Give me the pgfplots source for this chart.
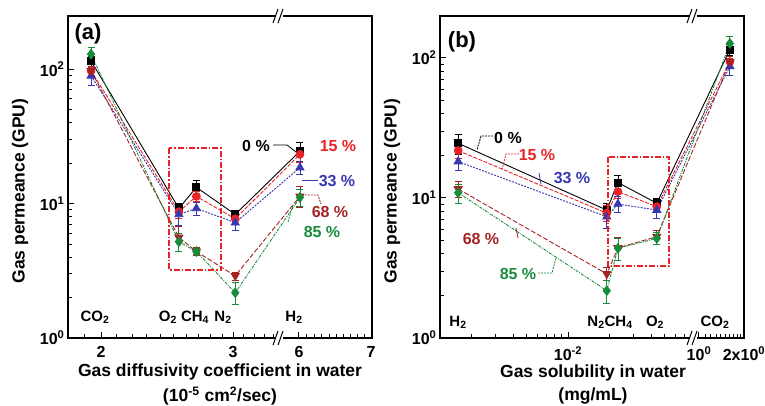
\documentclass[border=0pt]{standalone}
\usepackage{fontspec}
\setmainfont{Liberation Sans}
\usepackage{pgfplots}
\pgfplotsset{compat=1.18}

\definecolor{cred}{RGB}{232,35,40}
\definecolor{cblue}{RGB}{55,55,175}
\definecolor{cdred}{RGB}{165,35,35}
\definecolor{cgreen}{RGB}{25,140,60}

\newcommand\fs[1]{\fontsize{#1}{#1}\selectfont\bfseries}

\pgfplotsset{
  every axis/.append style={scale only axis, width=304pt, height=322pt,
    ymin=1,
    axis line style={line width=1.3pt},
    tick style={line width=1pt, black},
    major tick length=6pt, minor tick length=4pt,
    xtick pos=bottom, ytick pos=left,
    tick label style={font=\fs{16}},
    xticklabel style={yshift=-5pt},
    ytick={1,10,100},
    yticklabels={10\textsuperscript{0},10\textsuperscript{1},10\textsuperscript{2}}},
  errs/.style={error bars/.cd, y dir=both, y explicit,
    error bar style={line width=0.8pt, solid},
    error mark options={rotate=90, mark size=3.5pt, line width=0.8pt, solid}},
  ser0/.style={black, line width=0.9pt, solid, mark=square*, mark size=3.5pt, mark options={solid, fill=black}, errs},
  ser15/.style={cred, line width=0.9pt, dash pattern=on 4pt off 1.5pt, mark=*, mark size=3.9pt, mark options={solid, fill=cred}, errs},
  ser33/.style={cblue, line width=0.9pt, dash pattern=on 2pt off 1.2pt, mark=triangle*, mark size=4.6pt, mark options={solid, fill=cblue}, errs},
  ser68/.style={cdred, line width=0.9pt, dash pattern=on 5pt off 2pt, mark=triangle*, mark size=4.6pt,
    mark options={solid, fill=cdred, rotate=180}, errs},
  ser85/.style={cgreen, line width=0.9pt, dash pattern=on 3pt off 1.2pt on 1pt off 1.2pt, mark=diamond*, mark size=4.8pt, mark options={solid, fill=cgreen}, errs},
}

\begin{document}
\begin{tikzpicture}
\path[use as bounding box] (0,0) rectangle (765pt,-405pt);

% ---------- panel (a)
\begin{axis}[xmode=log, ymode=log, at={(68pt,-338pt)}, anchor=south west,
  xmin=1.807, xmax=4.596, ymax=248,
  xtick={2,3,3.6728,4.5823}, xticklabels={2,3,6,7},
  minor xtick={1.9,2.1,2.2,2.3,2.4,2.5,2.6,2.7,2.8,2.9,3.1,3.2,3.3,3.4,
    3.7614,3.8501,3.9396,4.0296,4.1201,4.2114,4.3032,4.3954,4.4885}]
\addplot[ser0] coordinates {(1.94,115) +- (0,10) (2.54,9.2) +- (0,0.8) (2.68,13.2) +- (0,1.6) (3.02,8.3) +- (0,0.6) (3.684,24.5) +- (0,4)};
\addplot[ser15] coordinates {(1.94,97) +- (0,8) (2.54,8.7) +- (0,0.9) (2.68,11.3) +- (0,1.0) (3.02,7.7) +- (0,0.6) (3.684,23.2) +- (0,3)};
\addplot[ser33] coordinates {(1.94,89) +- (0,14) (2.54,8.3) +- (0,1.4) (2.68,9.2) +- (0,1.0) (3.02,7.2) +- (0,0.9) (3.684,18.5) +- (0,2)};
\addplot[ser68] coordinates {(1.94,97) +- (0,8) (2.54,5.6) +- (0,1.2) (2.68,4.4) +- (0,0.3) (3.02,2.9) +- (0,0.2) (3.684,11.3) +- (0,2.0)};
\addplot[ser85] coordinates {(1.94,129) +- (0,15) (2.54,5.2) +- (0,0.8) (2.68,4.4) +- (0,0.2) (3.02,2.17) +- (0,0.4) (3.684,11.1) +- (0,1.6)};
\end{axis}

% ---------- panel (b)
\begin{axis}[xmode=log, ymode=log, at={(440pt,-338pt)}, anchor=south west,
  xmin=1.1816e-3, xmax=0.18856, ymax=199.5,
  xtick={0.01,0.08897,0.18856},
  xticklabels={10\textsuperscript{-2},10\textsuperscript{0},2x10\textsuperscript{0}},
  minor xtick={0.002,0.003,0.004,0.005,0.006,0.007,0.008,0.009,
    0.02,0.03,0.04,0.05,0.06,0.07,
    0.09866,0.10842,0.11823,0.12810,0.13805,0.14807,0.15812,0.16819,0.17837}]
\addplot[ser0] coordinates {(0.0016,24.6) +- (0,4) (0.0191,8.2) +- (0,1.0) (0.0230,12.9) +- (0,1.6) (0.0440,9.17) +- (0,0.7) (0.149,115) +- (0,10)};
\addplot[ser15] coordinates {(0.0016,21.8) +- (0,2.5) (0.0191,7.8) +- (0,1.0) (0.0230,11.1) +- (0,1.2) (0.0440,8.67) +- (0,0.8) (0.149,94) +- (0,8)};
\addplot[ser33] coordinates {(0.0016,18.2) +- (0,2.5) (0.0191,7.35) +- (0,1.3) (0.0230,9.06) +- (0,1.2) (0.0440,8.2) +- (0,1.0) (0.149,87) +- (0,12)};
\addplot[ser68] coordinates {(0.0016,11.6) +- (0,1.5) (0.0191,2.87) +- (0,0.3) (0.0230,4.4) +- (0,0.8) (0.0440,5.3) +- (0,0.6) (0.149,94) +- (0,8)};
\addplot[ser85] coordinates {(0.0016,10.9) +- (0,1.7) (0.0191,2.18) +- (0,0.4) (0.0230,4.37) +- (0,0.8) (0.0440,5.15) +- (0,0.5) (0.149,127) +- (0,15)};
\end{axis}

% ---------- axis breaks
\foreach \bx in {279,693}{
  \foreach \by in {16,338}{
    \fill[white] (\bx pt-4pt,-\by pt+3pt) rectangle (\bx pt+4pt,-\by pt-3pt);
    \draw[line width=1pt] (\bx pt-6pt,-\by pt-7pt) -- (\bx pt-1pt,-\by pt+7pt);
    \draw[line width=1pt] (\bx pt-1pt,-\by pt-7pt) -- (\bx pt+4pt,-\by pt+7pt);
  }
}

% ---------- highlight boxes
\draw[cred, line width=1.1pt, dash pattern=on 6pt off 2pt on 1.5pt off 2pt] (169pt,-148pt) rectangle (221pt,-270pt);
\draw[cred, line width=1.1pt, dash pattern=on 6pt off 2pt on 1.5pt off 2pt] (608pt,-157pt) rectangle (669pt,-266pt);

% ---------- panel letters
\node[font=\fs{22}] at (88pt,-34pt) {(a)};
\node[font=\fs{22}] at (462pt,-42pt) {(b)};

% ---------- gas names
\begin{scope}[every node/.style={font=\fs{15}, anchor=base, inner sep=0pt}]
\node at (95pt,-321pt) {CO\textsubscript{2}};
\node at (168pt,-321pt) {O\textsubscript{2}};
\node at (195pt,-321pt) {CH\textsubscript{4}};
\node at (223pt,-321pt) {N\textsubscript{2}};
\node at (294pt,-321pt) {H\textsubscript{2}};
\node at (458pt,-326pt) {H\textsubscript{2}};
\node at (610pt,-326pt) {N\textsubscript{2}CH\textsubscript{4}};
\node at (655pt,-326pt) {O\textsubscript{2}};
\node at (715pt,-326pt) {CO\textsubscript{2}};
\end{scope}

% ---------- series labels (a)
\begin{scope}[every node/.style={font=\fs{16}, inner sep=0pt}]
\node[black] at (256pt,-146pt) {0 \%};
\draw[black, line width=0.8pt] (273pt,-145pt) -- (287pt,-145pt) -- (296pt,-152pt);
\node[cred] at (338pt,-146pt) {15 \%};
\node[cblue] at (337pt,-181pt) {33 \%};
\draw[cblue, line width=0.8pt] (302pt,-180pt) -- (318pt,-180pt);
\node[cdred] at (330pt,-212pt) {68 \%};
\draw[cdred, line width=0.8pt, dash pattern=on 2pt off 1pt] (305pt,-195pt) -- (318pt,-195pt) -- (321pt,-204pt);
\node[cgreen] at (322pt,-232pt) {85 \%};
\draw[cgreen, line width=0.8pt, dash pattern=on 2pt off 1pt] (288pt,-222pt) -- (293pt,-205pt);
% ---------- series labels (b)
\node[black] at (508pt,-138pt) {0 \%};
\draw[black, line width=0.8pt, dash pattern=on 2pt off 1pt] (493pt,-136pt) -- (481pt,-136pt) -- (477pt,-150pt);
\node[cred] at (537pt,-155pt) {15 \%};
\draw[cred, line width=0.8pt, dash pattern=on 2pt off 1pt] (519pt,-154pt) -- (506pt,-154pt) -- (502pt,-170pt);
\node[cblue] at (572pt,-178pt) {33 \%};
\draw[cblue, line width=0.8pt] (539pt,-173pt) -- (541pt,-184pt);
\node[cdred] at (481pt,-239pt) {68 \%};
\draw[cdred, line width=0.8pt] (516pt,-228pt) -- (518pt,-238pt);
\node[cgreen] at (518pt,-274pt) {85 \%};
\draw[cgreen, line width=0.8pt, dash pattern=on 2pt off 1pt] (538pt,-273pt) -- (552pt,-273pt) -- (556pt,-258pt);
\end{scope}

% ---------- axis titles
\begin{scope}[every node/.style={font=\fs{17.5}, inner sep=0pt}]
\node[rotate=90] at (20pt,-191pt) {Gas permeance (GPU)};
\node[rotate=90] at (392pt,-191pt) {Gas permeance (GPU)};
\node at (220pt,-372pt) {Gas diffusivity coefficient in water};
\node at (220pt,-396pt) {(10\textsuperscript{-5} cm\textsuperscript{2}/sec)};
\node at (593pt,-373pt) {Gas solubility in water};
\node at (593pt,-396pt) {(mg/mL)};
\end{scope}
\end{tikzpicture}
\end{document}
